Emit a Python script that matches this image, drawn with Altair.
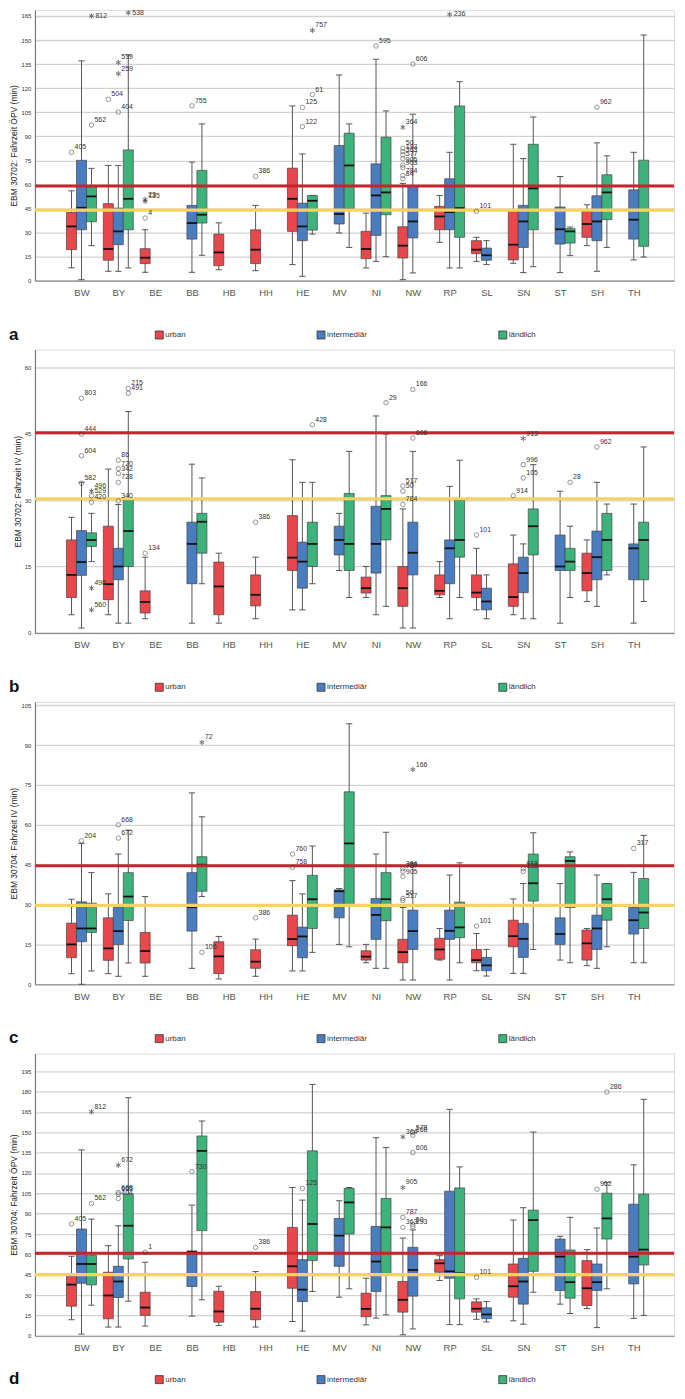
import altair as alt
import pandas as pd

STATES = ["BW", "BY", "BE", "BB", "HB", "HH", "HE", "MV", "NI", "NW", "RP", "SL", "SN", "ST", "SH", "TH"]
U, I, L = "urban", "intermediär", "ländlich"
GROUPS = [U, I, L]
COLORS = ["#E8474C", "#4A7DC0", "#3DB37C"]

# (Bundesland, Gruppe, unterer Whisker, Q1, Median, Q3, oberer Whisker)
A_BOX = [
    ("BW", U, 8, 19.3, 33.8, 42.5, 56), ("BW", I, 0.6, 31.7, 45.4, 75, 137), ("BW", L, 21.8, 36.7, 52.5, 58.5, 70),
    ("BY", U, 5.8, 12.7, 19.7, 48, 71.8), ("BY", I, 5.8, 22.4, 30.7, 45.2, 71.8), ("BY", L, 7.9, 31.7, 51, 81.5, 140.7),
    ("BE", U, 5.2, 10.6, 14.3, 19.9, 31.7),
    ("BB", I, 5.2, 25.9, 35.9, 46.9, 73.9), ("BB", L, 15.8, 35.9, 41.1, 68.7, 97.7),
    ("HB", U, 6.8, 9.3, 17.6, 29, 36),
    ("HH", U, 6.2, 10.6, 19.3, 31.7, 46.9),
    ("HE", U, 10, 30.7, 51, 70.1, 108.9), ("HE", I, 2.7, 24.9, 33.8, 48.3, 79), ("HE", L, 29, 31.5, 49.8, 53.1, 53.1),
    ("MV", I, 29.7, 35.3, 41.5, 84.2, 128.2), ("MV", L, 20.7, 44.8, 71.8, 91.9, 97.7),
    ("NI", U, 7.9, 13.7, 19.7, 30.7, 42.1), ("NI", I, 12, 28.2, 53.1, 72.8, 138), ("NI", L, 14.9, 41.1, 55, 89.4, 105.8),
    ("NW", U, 0.6, 14.1, 21.8, 33.6, 60.6), ("NW", I, 4.8, 26.6, 36.9, 58.7, 103.7),
    ("RP", U, 23.9, 31.7, 40, 46.3, 53.1), ("RP", I, 7.9, 31.7, 42.7, 63.5, 80), ("RP", L, 7.9, 27, 45.2, 108.9, 124),
    ("SL", U, 12, 16.8, 19.3, 24.9, 27), ("SL", I, 10, 12.7, 15.8, 20.3, 24.9),
    ("SN", U, 10.8, 12.9, 22.4, 43.6, 85), ("SN", I, 5, 20.7, 36.9, 46.9, 76.1), ("SN", L, 8.7, 31.7, 57.5, 85, 102),
    ("ST", I, 5, 22.8, 32, 45.9, 64.9), ("ST", L, 15.6, 23.4, 30.7, 32.4, 33.4),
    ("SH", U, 21.8, 27, 35.3, 43.2, 47.3), ("SH", I, 5.8, 24.9, 36.9, 52.9, 85.9), ("SH", L, 20.7, 38, 55, 66, 77.8),
    ("TH", I, 12.9, 25.9, 38, 56.6, 80), ("TH", L, 14.7, 21.4, 44, 75.1, 153.1),
]
# (Bundesland, Gruppe, Wert, Fall-Nr., Typ: o = Ausreißer, * = Extremwert)
A_OUT = [
    ("BW", U, 80, "405", "o"), ("BW", L, 97, "562", "o"), ("BW", L, 165, "812", "*"),
    ("BY", U, 113, "504", "o"), ("BY", I, 105, "404", "o"), ("BY", I, 129, "259", "*"), ("BY", I, 136, "539", "*"),
    ("BY", L, 167, "538", "*"),
    ("BE", U, 39, "4", "o"), ("BE", U, 50.5, "23", "*"), ("BE", U, 49.5, "135", "*"),
    ("BB", I, 109, "755", "o"), ("HH", U, 65, "386", "o"),
    ("HE", I, 108, "125", "o"), ("HE", I, 96, "122", "o"), ("HE", L, 116, "61", "o"), ("HE", L, 156, "757", "*"),
    ("NI", I, 146.3, "595", "o"),
    ("NW", U, 63.5, "84", "o"), ("NW", U, 65.5, "784", "o"), ("NW", U, 70.5, "903", "o"), ("NW", U, 72, "905", "o"),
    ("NW", U, 76, "577", "o"), ("NW", U, 78.5, "363", "o"), ("NW", U, 80.5, "193", "o"), ("NW", U, 82.5, "50", "o"),
    ("NW", U, 95.6, "364", "*"), ("NW", I, 135, "606", "o"),
    ("RP", I, 166, "236", "*"), ("SL", U, 43.2, "101", "o"), ("SH", I, 108.1, "962", "o"),
]
A_REF = (59, 44)

B_BOX = [
    ("BW", U, 4.1, 8, 13.1, 21, 26.1), ("BW", I, 1.1, 13, 16, 23.1, 34), ("BW", L, 16.1, 19.5, 21, 22.6, 27),
    ("BY", U, 4.1, 7.5, 11, 24.1, 37), ("BY", I, 2.2, 12, 15, 19.1, 29), ("BY", L, 2.2, 15, 23, 30.1, 50),
    ("BE", U, 3.2, 4.5, 7, 9.5, 17.1),
    ("BB", I, 2.2, 11.1, 20.1, 25, 38.1), ("BB", L, 11.1, 18, 25.1, 27, 35),
    ("HB", U, 2.2, 4.1, 10.5, 16, 18),
    ("HH", U, 3.2, 6.1, 8.6, 13.1, 17.1),
    ("HE", U, 5.2, 14.1, 17, 26.5, 39.1), ("HE", I, 5.2, 10.1, 16.1, 20.5, 34), ("HE", L, 11.1, 15, 20.1, 25, 34),
    ("MV", I, 14.1, 17.6, 21, 24.1, 27), ("MV", L, 8, 14.1, 20.1, 31.5, 41),
    ("NI", U, 8, 9, 10.1, 12.6, 15), ("NI", I, 4.1, 13.5, 20.1, 28.6, 49), ("NI", L, 6, 21, 28, 31, 44.9),
    ("NW", U, 1.1, 6, 10.1, 15, 28), ("NW", I, 1.1, 13.1, 18.1, 25, 41),
    ("RP", U, 8, 8.6, 9.5, 13.1, 16.1), ("RP", I, 3.2, 11.1, 19.1, 21, 33.1), ("RP", L, 8, 17.1, 21, 30, 39),
    ("SL", U, 5.2, 8, 9.1, 13.1, 19.1), ("SL", I, 3.2, 5.2, 7.1, 10.1, 13.1),
    ("SN", U, 4.1, 6, 8.1, 15.6, 22.1), ("SN", I, 3.2, 9.1, 13.5, 17.1, 20.1), ("SN", L, 3.2, 17.6, 24.1, 28, 38),
    ("ST", I, 2.2, 14.1, 15, 22.1, 32), ("ST", L, 8, 14.1, 16.1, 19.1, 24.1),
    ("SH", U, 7.1, 9.5, 13.5, 18, 21), ("SH", I, 6, 12, 17.1, 23, 34), ("SH", L, 13.1, 14.1, 21, 27, 29.1),
    ("TH", I, 2.2, 12, 19.1, 20.1, 29.1), ("TH", L, 7.1, 12, 21, 25, 42),
]
B_OUT = [
    ("BW", I, 53, "803", "o"), ("BW", I, 44.9, "444", "o"), ("BW", I, 40, "604", "o"), ("BW", I, 33.8, "582", "o"),
    ("BW", L, 32, "496", "*"), ("BW", L, 31, "529", "o"), ("BW", L, 29.5, "420", "o"),
    ("BW", L, 10.1, "498", "*"), ("BW", L, 5.2, "560", "*"),
    ("BY", I, 39, "86", "o"), ("BY", I, 37.1, "720", "o"), ("BY", I, 36, "342", "o"), ("BY", I, 34, "728", "o"),
    ("BY", I, 29.8, "340", "o"), ("BY", L, 55.2, "215", "o"), ("BY", L, 54.1, "491", "o"),
    ("BE", U, 18, "134", "o"), ("HH", U, 25, "386", "o"), ("HE", L, 47, "428", "o"), ("NI", L, 52, "29", "o"),
    ("NW", U, 33.2, "517", "o"), ("NW", U, 32, "50", "o"), ("NW", U, 29, "784", "o"),
    ("NW", I, 55, "166", "o"), ("NW", I, 44, "606", "o"),
    ("SL", U, 22.1, "101", "o"), ("SN", U, 31, "914", "o"), ("SN", I, 38, "996", "o"), ("SN", I, 35, "105", "o"),
    ("SN", I, 43.9, "913", "*"), ("ST", L, 34, "28", "o"), ("SH", I, 42, "962", "o"),
]
B_REF = (45.2, 30.3)

C_BOX = [
    ("BW", U, 4, 10, 15, 23, 32), ("BW", I, 0, 16, 21, 31, 53), ("BW", L, 5, 19.5, 21, 30.5, 42),
    ("BY", U, 4, 9, 13.5, 25, 34), ("BY", I, 3, 15, 20, 29, 49), ("BY", L, 8, 24, 33, 42, 58),
    ("BE", U, 3, 8, 12.5, 19.5, 33),
    ("BB", I, 6, 20, 29, 42, 72), ("BB", L, 33, 35, 45, 48, 63),
    ("HB", U, 2, 4, 10.5, 16, 18),
    ("HH", U, 3, 6, 8.5, 13, 17),
    ("HE", U, 5, 14.5, 17, 26, 39), ("HE", I, 5, 10, 18, 21.5, 34), ("HE", L, 12, 21, 32, 41, 52),
    ("MV", I, 15, 25, 35, 35.5, 36), ("MV", L, 14.1, 29.6, 53, 72.4, 98),
    ("NI", U, 8.1, 9.1, 10.4, 12.6, 15), ("NI", I, 6, 16.9, 26.1, 32.3, 49), ("NI", L, 6, 23.9, 32, 42, 57.2),
    ("NW", U, 1.6, 8.1, 12.1, 16.9, 28.9), ("NW", I, 1.6, 13.1, 20, 27.9, 45.7),
    ("RP", U, 9.1, 9.4, 13.1, 17.3, 21), ("RP", I, 1.6, 16.9, 20.1, 27.9, 41.1), ("RP", L, 8.1, 17.5, 21.4, 30.9, 45.7),
    ("SL", U, 5.1, 8.1, 9.1, 13.1, 19.1), ("SL", I, 3.1, 5.1, 7.1, 10.1, 13.1),
    ("SN", U, 4.1, 14.1, 18.1, 24.1, 32.1), ("SN", I, 4.1, 10.1, 17.1, 22.9, 37.9), ("SN", L, 13.1, 31.3, 38, 49, 57),
    ("ST", I, 9.1, 15, 18.9, 25, 37.9), ("ST", L, 8.1, 28.9, 46.4, 48, 49.8),
    ("SH", U, 7, 9.1, 15.4, 20.4, 21), ("SH", I, 6, 13.1, 21, 26, 41.1), ("SH", L, 14.1, 24.1, 32, 37.9, 37.9),
    ("TH", I, 8.1, 18.9, 24.1, 28.9, 42.1), ("TH", L, 8.1, 21, 27, 39.8, 56),
]
C_OUT = [
    ("BW", I, 54, "204", "o"), ("BY", I, 60, "668", "o"), ("BY", I, 55, "672", "o"),
    ("BB", L, 91, "72", "*"), ("BB", L, 12, "106", "o"), ("HH", U, 25, "386", "o"),
    ("HE", U, 49, "760", "o"), ("HE", U, 44, "758", "o"),
    ("NW", U, 43.5, "364", "o"), ("NW", U, 42.5, "787", "o"), ("NW", U, 40.5, "905", "o"),
    ("NW", U, 32.3, "50", "o"), ("NW", U, 31.5, "517", "o"), ("NW", I, 80.8, "166", "*"),
    ("SL", U, 21.9, "101", "o"), ("SN", I, 43.5, "913", "o"), ("SN", I, 42.5, "105", "o"), ("TH", I, 51.1, "317", "o"),
]
C_REF = (44.6, 29.7)

D_BOX = [
    ("BW", U, 11.8, 21.8, 37.7, 43.9, 58.6), ("BW", I, 1.2, 38.7, 52.9, 78.7, 137), ("BW", L, 22.5, 37.5, 52.9, 59.3, 86),
    ("BY", U, 6.4, 12.5, 29.7, 46.8, 66.4), ("BY", I, 6.4, 28.2, 40, 51.2, 81.1), ("BY", L, 25.5, 56.6, 81.1, 104.4, 175.5),
    ("BE", U, 7.1, 15, 20.8, 32.1, 54.2),
    ("BB", I, 14.5, 36.3, 62, 62.3, 96.3), ("BB", L, 26.5, 77.5, 136.3, 147.3, 158.3),
    ("HB", U, 7.6, 10, 17.9, 32.8, 36.5),
    ("HH", U, 6.4, 11.8, 19.9, 32.6, 47.3),
    ("HE", U, 10.5, 35, 51.2, 79.9, 109.3), ("HE", I, 3.4, 25.2, 34, 56.1, 100), ("HE", L, 32.6, 55.4, 82.4, 136.3, 185.3),
    ("MV", I, 28.4, 51.2, 73.8, 86.5, 99.5), ("MV", L, 34.6, 75, 98.3, 108.6, 109.3),
    ("NI", U, 8, 14, 19.8, 31.4, 42.4), ("NI", I, 13, 32.6, 54.7, 80.6, 146), ("NI", L, 15.4, 45.6, 79.9, 101.2, 138.7),
    ("NW", U, 0.7, 17.4, 26.5, 40, 72), ("NW", I, 5, 29.2, 48.5, 65.2, 78),
    ("RP", U, 40.7, 46.8, 53.4, 56.1, 59), ("RP", I, 8.2, 42.4, 47.5, 106.6, 166.9), ("RP", L, 8.2, 27.2, 46, 109, 124.5),
    ("SL", U, 12.1, 17.4, 19.9, 25, 27.2), ("SL", I, 10.2, 12.6, 15.7, 20.6, 25.2),
    ("SN", U, 11, 28.4, 36.5, 52.9, 85.3), ("SN", I, 8.5, 23.3, 40, 57.1, 94.4), ("SN", L, 32.1, 47.5, 85.3, 92.6, 150.2),
    ("ST", I, 23.3, 33.3, 58.3, 71.3, 73.3), ("ST", L, 16.4, 27.7, 39.5, 63.2, 87.3),
    ("SH", U, 20, 22.3, 35, 55.4, 63.5), ("SH", I, 6, 33.3, 39.5, 52.9, 79.4), ("SH", L, 34.6, 71.3, 86.5, 105.1, 113),
    ("TH", I, 12.8, 38.2, 58.3, 97, 126), ("TH", L, 15, 52.2, 63.5, 104.4, 174.3),
]
D_OUT = [
    ("BW", U, 82.4, "405", "o"), ("BW", L, 97.5, "562", "o"), ("BW", L, 165.2, "812", "*"),
    ("BY", I, 105.6, "668", "o"), ("BY", I, 104.4, "665", "o"), ("BY", I, 101.2, "404", "o"), ("BY", I, 125.7, "672", "*"),
    ("BE", U, 61.5, "1", "o"), ("BB", I, 121, "730", "o"), ("HH", U, 65.2, "386", "o"), ("HE", I, 108.6, "125", "o"),
    ("NW", U, 146.6, "364", "*"), ("NW", U, 109.3, "905", "*"), ("NW", U, 87.3, "787", "o"), ("NW", U, 79.9, "363", "o"),
    ("NW", I, 149.8, "578", "o"), ("NW", I, 147.8, "168", "o"), ("NW", I, 135, "606", "o"),
    ("NW", I, 80.5, "193", "o"), ("NW", I, 82, "50", "o"),
    ("SL", U, 43.1, "101", "o"), ("SH", I, 108, "962", "o"), ("SH", L, 179.7, "286", "o"),
]
D_REF = (60.8, 45)

FONT = "Liberation Sans"
LETTER_FONT = "'Liberation Sans Narrow', 'Liberation Sans', sans-serif"
GOFF = {U: -0.271, I: 0.0, L: 0.271}
HALF = 0.136
CAP = 0.085
X_DOMAIN = [-1.264, 16.094]
W = 640
STAR = "M0,-1L0,1M-0.87,-0.5L0.87,0.5M-0.87,0.5L0.87,-0.5"
LABEL_EXPR = "[" + ",".join(f"'{s}'" for s in STATES) + "][datum.value]"


def panel(boxes, outs, refs, ytitle, ymax, h, letter, below):
    b = pd.DataFrame(boxes, columns=["state", "group", "lo", "q1", "med", "q3", "hi"])
    b["pos"] = b["state"].map(STATES.index) + b["group"].map(GOFF)
    b["x0"] = b["pos"] - HALF
    b["x1"] = b["pos"] + HALF
    b["c0"] = b["pos"] - CAP
    b["c1"] = b["pos"] + CAP
    o = pd.DataFrame(outs, columns=["state", "group", "val", "id", "kind"])
    o["pos"] = o["state"].map(STATES.index) + o["group"].map(GOFF)
    thr = ymax * 0.965

    xs = alt.Scale(domain=X_DOMAIN, nice=False, zero=False)
    ys = alt.Scale(domain=[0, ymax], nice=False, zero=True)
    xax = alt.Axis(values=list(range(16)), labelExpr=LABEL_EXPR, grid=False, ticks=False,
                   domain=True, domainColor="#8c8c8c", domainWidth=1.2, labelFont=FONT,
                   labelFontSize=9.5, labelColor="#555", labelPadding=7, title=None)
    yax = alt.Axis(values=list(range(0, int(ymax) + 1, 15)), grid=True, gridColor="#d2d2d2",
                   gridWidth=1.3, ticks=False, domain=True, domainColor="#777", domainWidth=1.2,
                   labelFont=FONT, labelFontSize=6, labelColor="#333", labelPadding=4,
                   title=ytitle, titleFont=FONT, titleFontSize=8.5, titleFontWeight="normal",
                   titleColor="#222", titlePadding=2)

    def X(f):
        return alt.X(f"{f}:Q", scale=xs, axis=xax)

    def Y(f):
        return alt.Y(f"{f}:Q", scale=ys, axis=yax)

    base = alt.Chart(b)
    whisker = base.mark_rule(color="#555", strokeWidth=1).encode(x=X("pos"), y=Y("lo"), y2="hi")
    cap_lo = base.mark_rule(color="#555", strokeWidth=1).encode(x=X("c0"), x2="c1", y=Y("lo"))
    cap_hi = base.mark_rule(color="#555", strokeWidth=1).encode(x=X("c0"), x2="c1", y=Y("hi"))
    box = base.mark_bar(stroke="#444", strokeWidth=0.7).encode(
        x=X("x0"), x2="x1", y=Y("q1"), y2="q3",
        color=alt.Color("group:N", scale=alt.Scale(domain=GROUPS, range=COLORS),
                        legend=alt.Legend(orient="none", legendX=120, legendY=h + below - 4.5,
                                          direction="horizontal", columns=3, title=None,
                                          symbolType="square", symbolSize=64,
                                          symbolStrokeColor="#333", symbolStrokeWidth=0.8,
                                          labelFont=FONT, labelFontSize=8, labelColor="#333",
                                          labelOffset=1.5, columnPadding=129, padding=0)))
    med = base.mark_rule(color="#111", strokeWidth=1.8).encode(x=X("x0"), x2="x1", y=Y("med"))

    red = alt.Chart(pd.DataFrame({"v": [refs[0]]})).mark_rule(color="#C1272D", strokeWidth=3.2).encode(y=Y("v"))
    yellow = alt.Chart(pd.DataFrame({"v": [refs[1]]})).mark_rule(color="#F6D35E", strokeWidth=3.2).encode(y=Y("v"))

    ob = alt.Chart(o)
    circles = ob.transform_filter("datum.kind == 'o'").mark_point(
        shape="circle", size=20, color="#444", strokeWidth=0.8, filled=False, clip=True
    ).encode(x=X("pos"), y=Y("val"))
    stars = ob.transform_filter("datum.kind == '*'").mark_point(
        shape=STAR, size=30, color="#333", strokeWidth=1, filled=False, clip=True
    ).encode(x=X("pos"), y=Y("val"))
    labels = ob.transform_filter(f"datum.val <= {thr}").mark_text(
        align="left", baseline="bottom", dx=3, dy=-2, fontSize=7, font=FONT, color="#333", clip=True
    ).encode(x=X("pos"), y=Y("val"), text="id:N")
    labels_top = ob.transform_filter(f"datum.val > {thr}").mark_text(
        align="left", baseline="middle", dx=4, dy=0, fontSize=7, font=FONT, color="#333", clip=True
    ).encode(x=X("pos"), y=Y("val"), text="id:N")

    let = alt.Chart(pd.DataFrame({"t": [letter]})).mark_text(
        align="left", baseline="middle", fontSize=17, fontWeight="bold", font=LETTER_FONT, color="#111"
    ).encode(x=alt.value(-26), y=alt.value(h + below), text="t:N")

    return alt.layer(whisker, cap_lo, cap_hi, box, med, red, yellow, circles, stars, labels, labels_top,
                     let).properties(width=W, height=h)


pa = panel(A_BOX, A_OUT, A_REF, "EBM 30702: Fahrzeit ÖPV (min)", 168.7, 271, "a", 54)
pb = panel(B_BOX, B_OUT, B_REF, "EBM 30702: Fahrzeit IV (min)", 64.0, 283.8, "b", 54)
pc = panel(C_BOX, C_OUT, C_REF, "EBM 30704: Fahrzeit IV (min)", 106.2, 282.7, "c", 54)
pd_ = panel(D_BOX, D_OUT, D_REF, "EBM 30704: Fahrzeit ÖPV (min)", 208.1, 282.7, "d", 43.5)

chart = alt.vconcat(pa, pb, pc, pd_, spacing=5).resolve_scale(color="independent").resolve_legend(
    color="independent").properties(padding=0).configure_view(stroke=None).configure(
    font=FONT, background="white")

chart.save("out.html", embed_options={"renderer": "svg", "actions": False})
